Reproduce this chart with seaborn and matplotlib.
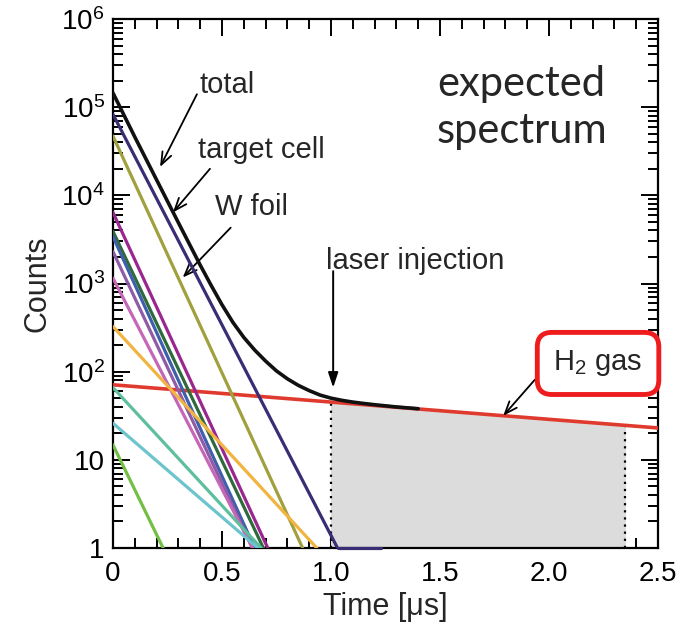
import numpy as np
import pandas as pd
import matplotlib
matplotlib.use("Agg")
import matplotlib.pyplot as plt
import matplotlib.ticker as mticker
from matplotlib.patches import Rectangle
import seaborn as sns

# ── Data ──────────────────────────────────────────────────────────────────────
# each component decays as a straight line (log axis) from its t=0 count to 1 count
comp_names = ["target cell", "W foil", "c1", "c2", "c3", "c4", "c5", "c6", "c7", "c8", "c9"]
comp_start = [8.3e4, 4.7e4, 6.4e3, 3.9e3, 3.4e3, 2.3e3, 1.15e3, 325, 66, 26, 14.8]
comp_end_t = [1.03, 0.87, 0.71, 0.69, 0.65, 0.64, 0.64, 0.935, 0.68, 0.665, 0.23]
comp_colors = ["#3b2d75", "#a0a03e", "#9a278f", "#2f6a3c", "#3f5eab", "#8f5aa6",
               "#c467b8", "#f2b440", "#5ebf9d", "#6cc4cc", "#73bf45"]

floor_t = [1.03, 1.23]          # target cell sits on the bottom axis after it hits 1

total_t = [0, 0.1, 0.2, 0.3, 0.4, 0.45, 0.5, 0.55, 0.6, 0.65, 0.7, 0.75, 0.8,
           0.85, 0.9, 0.95, 1.0, 1.05, 1.1, 1.15, 1.2, 1.3, 1.4]
total_counts = [1.45e5, 4.6e4, 1.5e4, 4.9e3, 1.62e3, 955, 575, 363, 245, 176,
                132, 102, 83, 70, 61, 54.3, 50.1, 47.3, 45.2, 43.6, 42.2, 39.8, 38.0]

h2_t = [0, 2.5]
h2_counts = [71, 23]

shade_t = [1.0, 2.35]           # gray window after laser injection
shade_top = [45.2, 24.6]        # red line height at the window edges

x_ticks = [0, 0.5, 1.0, 1.5, 2.0, 2.5]
x_ticklabels = ["0", "0.5", "1.0", "1.5", "2.0", "2.5"]
y_ticks = [1, 10, 1e2, 1e3, 1e4, 1e5, 1e6]
y_ticklabels = ["1", "10", "$10^2$", "$10^3$", "$10^4$", "$10^5$", "$10^6$"]

# long table for seaborn
rows = []
for name, n0, t1 in zip(comp_names, comp_start, comp_end_t):
    rows.append({"comp": name, "t": 0.0, "counts": n0})
    rows.append({"comp": name, "t": t1, "counts": 1.0})
df = pd.DataFrame(rows)

# ── Style ─────────────────────────────────────────────────────────────────────
sns.set_style("ticks")
plt.rcParams["font.family"] = ["Liberation Sans", "DejaVu Sans"]
plt.rcParams["mathtext.fontset"] = "custom"
plt.rcParams["mathtext.rm"] = "Liberation Sans"
plt.rcParams["mathtext.it"] = "Liberation Sans"
plt.rcParams["mathtext.default"] = "regular"

fig = plt.figure(figsize=(6.83, 6.31), dpi=100)
ax = fig.add_axes([0.1654, 0.1315, 0.7980, 0.8384])
ax.set_yscale("log")

# shaded window under the H2 line
shade = ax.fill_between(h2_t, 1, h2_counts, color="#dcdcdc", lw=0, zorder=1)
clip = Rectangle((shade_t[0], 1), shade_t[1] - shade_t[0], 1e6, transform=ax.transData)
shade.set_clip_path(clip)
ax.vlines(shade_t, 1, shade_top, colors="black", linestyles=(0, (1, 2.2)), lw=1.6, zorder=2)

# components
sns.lineplot(data=df, x="t", y="counts", hue="comp", palette=comp_colors,
             hue_order=comp_names, estimator=None, sort=False, lw=2.3,
             legend=False, ax=ax, zorder=4)
ax.plot(floor_t, [1, 1], color=comp_colors[0], lw=2.3, clip_on=False, zorder=4)

sns.lineplot(x=h2_t, y=h2_counts, color="#e03a2f", lw=2.6, ax=ax, zorder=3)
sns.lineplot(x=total_t, y=total_counts, color="#111111", lw=2.6, ax=ax, zorder=5)

ax.set_xlim(0, 2.5)
ax.set_ylim(1, 1e6)
ax.set_xticks(x_ticks)
ax.set_xticklabels(x_ticklabels)
ax.set_yticks(y_ticks)
ax.set_yticklabels(y_ticklabels)
ax.xaxis.set_minor_locator(mticker.MultipleLocator(0.1))
ax.yaxis.set_minor_locator(mticker.LogLocator(base=10, subs=np.arange(2, 10)))
ax.yaxis.set_minor_formatter(mticker.NullFormatter())
ax.tick_params(which="both", direction="in", top=True, right=True, width=1.4,
               labelsize=20, colors="black")
ax.tick_params(which="major", length=12)
ax.tick_params(which="minor", length=7)
ax.tick_params(axis="x", pad=9)
ax.tick_params(axis="y", pad=6)
for s in ax.spines.values():
    s.set_linewidth(1.6)
    s.set_color("black")

ax.set_xlabel("Time [μs]", fontsize=22, labelpad=4)
ax.set_ylabel("Counts", fontsize=22, labelpad=6)

# ── Annotations ───────────────────────────────────────────────────────────────
arrow_thin = dict(arrowstyle="->,head_length=0.9,head_width=0.35", color="black", lw=1.3,
                  shrinkA=0, shrinkB=0)
ax.text(0.525, 1.8e5, "total", fontsize=21, ha="center", va="center")
ax.annotate("", xy=(0.216, 2.1e4), xytext=(0.385, 1.4e5), arrowprops=arrow_thin)
ax.text(0.68, 3.3e4, "target cell", fontsize=21, ha="center", va="center")
ax.annotate("", xy=(0.275, 6.4e3), xytext=(0.445, 2.0e4), arrowprops=arrow_thin)
ax.text(0.635, 7.3e3, "W foil", fontsize=21, ha="center", va="center")
ax.annotate("", xy=(0.32, 1.17e3), xytext=(0.54, 4.3e3), arrowprops=arrow_thin)

ax.text(1.385, 1.78e3, "laser injection", fontsize=21, ha="center", va="center")
ax.annotate("", xy=(1.01, 66), xytext=(1.01, 1.38e3),
            arrowprops=dict(arrowstyle="-|>,head_length=0.9,head_width=0.3",
                            color="black", lw=1.4, shrinkA=0, shrinkB=0))

ax.text(2.225, 124, "H$_2$ gas", fontsize=21, ha="center", va="center", zorder=6,
        bbox=dict(boxstyle="round,pad=0.55,rounding_size=0.5", fc="white",
                  ec="#ee1c1c", lw=3.5), clip_on=False)
ax.annotate("", xy=(1.79, 31.6), xytext=(1.935, 81), arrowprops=arrow_thin)

ax.text(1.875, 1.0e5, "expected\nspectrum", fontsize=30, ha="center", va="center",
        family=["Lato", "DejaVu Sans"], linespacing=1.3)

fig.savefig("out.png", dpi=100)
